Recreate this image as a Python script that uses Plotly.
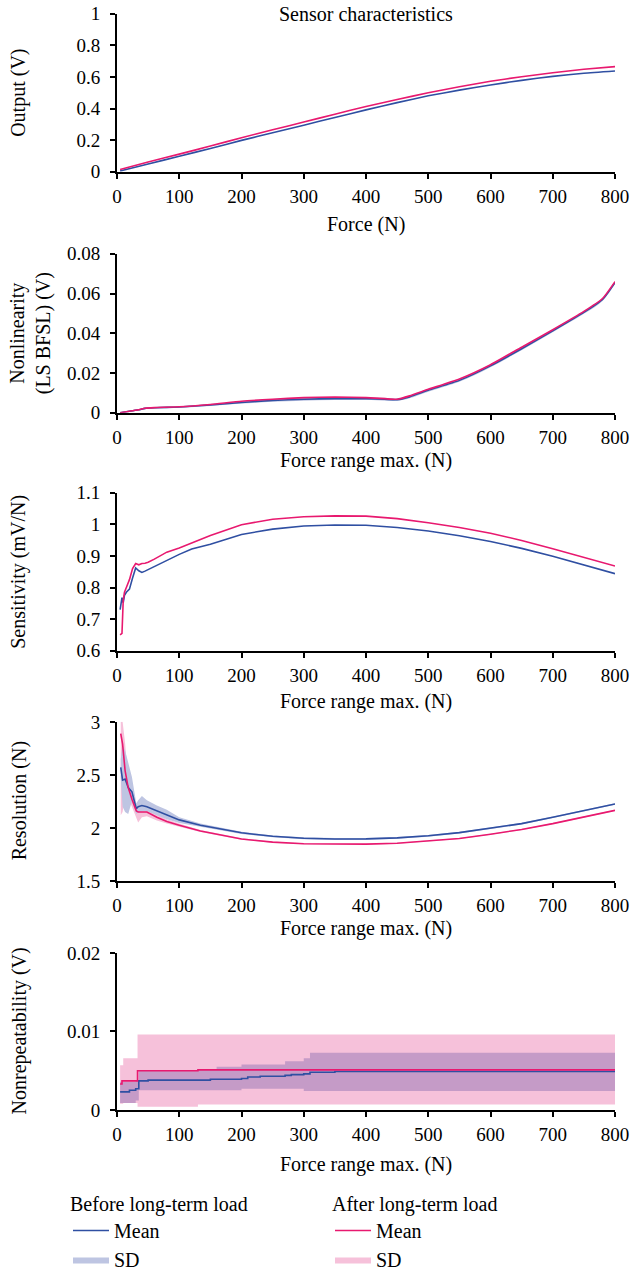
import plotly.graph_objects as go

# ---------------- data ----------------
# Panel 1: Output (V) vs Force (N)
out_x = [5, 50, 100, 150, 200, 250, 300, 350, 400, 450, 500, 550, 600, 650, 700, 750, 800]
out_before = [0.005, 0.050, 0.098, 0.148, 0.199, 0.247, 0.295, 0.344, 0.392, 0.438, 0.481, 0.517, 0.550, 0.579, 0.604, 0.624, 0.638]
out_after = [0.015, 0.062, 0.112, 0.163, 0.216, 0.266, 0.315, 0.365, 0.413, 0.458, 0.500, 0.538, 0.573, 0.602, 0.627, 0.649, 0.666]

# Panel 2: Nonlinearity
nl_x = [5, 20, 35, 45, 60, 100, 150, 200, 250, 300, 350, 400, 430, 450, 470, 500, 550, 600, 650, 700, 750, 780, 800]
nl_after = [0.0, 0.0008, 0.0015, 0.0023, 0.0026, 0.0030, 0.0042, 0.0058, 0.0068, 0.0076, 0.0079, 0.0076, 0.0071, 0.0068, 0.0085, 0.0118, 0.0170, 0.0242, 0.0330, 0.0418, 0.0510, 0.0575, 0.0660]
nl_before = [0.0, 0.0008, 0.0015, 0.0022, 0.0025, 0.0029, 0.0039, 0.0052, 0.0062, 0.0068, 0.0071, 0.0071, 0.0068, 0.0066, 0.0080, 0.0113, 0.0163, 0.0236, 0.0322, 0.0412, 0.0505, 0.0570, 0.0655]
nl_before_hi = [0.0003, 0.0011, 0.0019, 0.0026, 0.0029, 0.0033, 0.0044, 0.0058, 0.0069, 0.0075, 0.0078, 0.0078, 0.0075, 0.0072, 0.0087, 0.0120, 0.0170, 0.0243, 0.0329, 0.0419, 0.0512, 0.0577, 0.0662]
nl_before_lo = [0.0, 0.0005, 0.0011, 0.0018, 0.0021, 0.0025, 0.0034, 0.0046, 0.0055, 0.0061, 0.0064, 0.0064, 0.0061, 0.0060, 0.0073, 0.0106, 0.0156, 0.0229, 0.0315, 0.0405, 0.0498, 0.0563, 0.0648]

# Panel 3: Sensitivity (mV/N)
se_x = [5, 8, 10, 12, 15, 20, 25, 30, 35, 40, 45, 50, 60, 80, 100, 120, 150, 200, 250, 300, 350, 400, 450, 500, 550, 600, 650, 700, 750, 800]
se_after = [0.650, 0.655, 0.760, 0.785, 0.800, 0.825, 0.860, 0.876, 0.872, 0.876, 0.877, 0.880, 0.890, 0.912, 0.925, 0.940, 0.965, 0.999, 1.016, 1.024, 1.027, 1.026, 1.018, 1.005, 0.990, 0.972, 0.949, 0.923, 0.896, 0.868]
se_before = [0.730, 0.768, 0.752, 0.775, 0.785, 0.795, 0.830, 0.862, 0.853, 0.848, 0.852, 0.857, 0.865, 0.885, 0.905, 0.922, 0.937, 0.968, 0.985, 0.995, 0.998, 0.997, 0.990, 0.979, 0.964, 0.946, 0.924, 0.899, 0.872, 0.844]

# Panel 4: Resolution (N)
re_x = [6, 9, 13, 18, 24, 31, 34, 40, 48, 64, 80, 100, 134, 200, 250, 300, 350, 400, 450, 500, 550, 600, 650, 700, 750, 800]
re_before = [2.57, 2.45, 2.46, 2.38, 2.34, 2.18, 2.20, 2.21, 2.20, 2.16, 2.12, 2.075, 2.025, 1.953, 1.920, 1.902, 1.895, 1.896, 1.905, 1.925, 1.955, 1.995, 2.040, 2.100, 2.160, 2.225]
re_before_hi = [2.65, 2.78, 2.73, 2.62, 2.48, 2.23, 2.26, 2.30, 2.26, 2.21, 2.17, 2.10, 2.04, 1.963, 1.929, 1.911, 1.904, 1.905, 1.914, 1.933, 1.963, 2.003, 2.048, 2.108, 2.168, 2.233]
re_before_lo = [2.48, 2.20, 2.15, 2.13, 2.25, 2.13, 2.15, 2.16, 2.16, 2.12, 2.08, 2.045, 2.010, 1.943, 1.911, 1.893, 1.886, 1.887, 1.896, 1.917, 1.947, 1.987, 2.032, 2.092, 2.152, 2.217]
re_after = [2.89, 2.79, 2.54, 2.38, 2.27, 2.16, 2.15, 2.15, 2.15, 2.10, 2.06, 2.025, 1.970, 1.895, 1.865, 1.850, 1.845, 1.846, 1.855, 1.875, 1.900, 1.940, 1.985, 2.040, 2.100, 2.165]
re_after_hi = [3.00, 3.00, 2.80, 2.45, 2.33, 2.21, 2.22, 2.22, 2.18, 2.13, 2.08, 2.040, 1.980, 1.902, 1.870, 1.855, 1.850, 1.851, 1.860, 1.880, 1.905, 1.945, 1.990, 2.045, 2.105, 2.170]
re_after_lo = [2.12, 2.15, 2.30, 2.28, 2.20, 2.08, 2.05, 2.10, 2.11, 2.07, 2.04, 2.010, 1.960, 1.888, 1.860, 1.845, 1.840, 1.841, 1.850, 1.870, 1.895, 1.935, 1.980, 2.035, 2.095, 2.160]

# Panel 5: Nonrepeatability (V) - step data
nr_after_x = [5, 8, 33, 130, 800]
nr_after = [0.0033, 0.0037, 0.0050, 0.0051, 0.0051]
nr_after_sd_x = [5, 10, 33, 130, 800]
nr_after_hi = [0.0057, 0.0066, 0.0096, 0.0096, 0.0096]
nr_after_lo = [0.0008, 0.0009, 0.0004, 0.0007, 0.0007]
nr_before_x = [5, 20, 30, 35, 50, 150, 200, 210, 230, 270, 280, 300, 310, 350, 800]
nr_before = [0.0023, 0.0025, 0.0027, 0.0037, 0.0038, 0.0039, 0.0040, 0.0042, 0.0043, 0.0044, 0.0045, 0.0046, 0.0048, 0.0049, 0.0049]
nr_before_sd_x = [5, 30, 35, 160, 200, 270, 300, 310, 800]
nr_before_hi = [0.0036, 0.0038, 0.0051, 0.0055, 0.0058, 0.0062, 0.0066, 0.0073, 0.0073]
nr_before_lo = [0.0009, 0.0012, 0.0025, 0.0025, 0.0027, 0.0027, 0.0024, 0.0024, 0.0024]

x_ticks = [0, 100, 200, 300, 400, 500, 600, 700, 800]

# ---------------- styles ----------------
BLUE = "#2F4FA2"
PINK = "#E8196F"
BLUE_SD = "#BEC5E2"
PINK_SD = "#F6C1DA"
PURPLE_SD = "#C59BC7"
FONT = "Liberation Serif"
TXT = 20
TICK = 19
H = 1279
W = 631
L, R = 117, 16

# panel pixel extents (top, bottom)
panels = [(14, 174), (257, 418), (499, 659), (731, 892), (965, 1124)]

fig = go.Figure()


def band(x, lo, hi, color, ax, shape="spline", name=None, legend=None, show=False, rank=2):
    fig.add_trace(go.Scatter(x=x, y=lo, mode="lines", line=dict(width=0, shape=shape),
                             xaxis="x" + ax, yaxis="y" + ax, showlegend=False, hoverinfo="skip"))
    fig.add_trace(go.Scatter(x=x, y=hi, mode="lines", line=dict(width=0, shape=shape),
                             fill="tonexty", fillcolor=color, xaxis="x" + ax, yaxis="y" + ax,
                             name=name, showlegend=show, legend=legend, legendrank=rank,
                             hoverinfo="skip"))


def line(x, y, color, ax, shape="spline", name=None, legend=None, show=False):
    fig.add_trace(go.Scatter(x=x, y=y, mode="lines",
                             line=dict(color=color, width=1.6, shape=shape, smoothing=0.5),
                             xaxis="x" + ax, yaxis="y" + ax, name=name,
                             showlegend=show, legend=legend, legendrank=1))


# Panel 1
line(out_x, out_before, BLUE, "")
line(out_x, out_after, PINK, "")
# Panel 2
band(nl_x, nl_before_lo, nl_before_hi, BLUE_SD, "2")
line(nl_x, nl_before, BLUE, "2")
line(nl_x, nl_after, PINK, "2")
# Panel 3
line(se_x, se_before, BLUE, "3", shape="linear")
line(se_x, se_after, PINK, "3", shape="linear")
# Panel 4 (provides legend entries)
band(re_x, re_after_lo, re_after_hi, PINK_SD, "4", shape="linear", name="SD", legend="legend2", show=True)
band(re_x, re_before_lo, re_before_hi, "rgba(170,180,220,0.75)", "4", shape="linear", name="SD", legend="legend", show=True)
line(re_x, re_before, BLUE, "4", shape="linear", name="Mean", legend="legend", show=True)
line(re_x, re_after, PINK, "4", shape="linear", name="Mean", legend="legend2", show=True)
# Panel 5
band(nr_after_sd_x, nr_after_lo, nr_after_hi, PINK_SD, "5", shape="hv")
band(nr_before_sd_x, nr_before_lo, nr_before_hi, PURPLE_SD, "5", shape="hv")
line(nr_before_x, nr_before, BLUE, "5", shape="hv")
line(nr_after_x, nr_after, PINK, "5", shape="hv")

# legend swatch colour for "before" SD should be lavender
for tr in fig.data:
    if tr.name == "SD" and tr.legend == "legend":
        tr.fillcolor = BLUE_SD

yranges = [[0, 1], [0, 0.08], [0.6, 1.1], [1.5, 3], [0, 0.02]]
ydticks = [0.2, 0.02, 0.1, 0.5, 0.01]
ytitles = ["Output (V)", "Nonlinearity<br>(LS BFSL) (V)", "Sensitivity (mV/N)", "Resolution (N)", "Nonrepeatability (V)"]
xtitles = ["Force (N)", "Force range max. (N)", "Force range max. (N)", "Force range max. (N)", "Force range max. (N)"]
xtitle_px = [227, 466, 710, 940, 1179]

axis_common = dict(showline=True, linecolor="black", linewidth=2, ticks="outside", ticklen=5,
                   tickwidth=2, tickcolor="black", showgrid=False, zeroline=False,
                   tickfont=dict(family=FONT, size=TICK, color="black"), automargin=False)

layout = {}
annotations = []
for i, (top, bot) in enumerate(panels):
    suffix = "" if i == 0 else str(i + 1)
    dom = [1 - bot / H, 1 - top / H]
    layout["xaxis" + suffix] = dict(axis_common, range=[0, 800], tickvals=x_ticks,
                                    anchor="y" + suffix, domain=[0, 1], ticklabelstandoff=1)
    layout["yaxis" + suffix] = dict(axis_common, range=yranges[i], dtick=ydticks[i], tick0=0 if i != 3 else 1.5,
                                    anchor="x" + suffix, domain=dom, ticklabelstandoff=6)
    annotations.append(dict(text=xtitles[i], xref="paper", yref="paper", x=0.5, y=1 - xtitle_px[i] / H,
                            xanchor="center", yanchor="middle", showarrow=False,
                            font=dict(family=FONT, size=TXT, color="black")))
    xpx = 30 if i == 1 else 19
    annotations.append(dict(text=ytitles[i], xref="paper", yref="paper", x=(xpx - L) / (W - L - R),
                            y=1 - (top + bot) / 2 / H, xanchor="center", yanchor="middle",
                            textangle=-90, showarrow=False,
                            font=dict(family=FONT, size=TXT, color="black")))

annotations.append(dict(text="Sensor characteristics", xref="paper", yref="paper", x=0.5, y=1 - 14 / H,
                        xanchor="center", yanchor="middle", showarrow=False,
                        font=dict(family=FONT, size=TXT, color="black")))

legend_common = dict(orientation="v", yanchor="top", xanchor="left", traceorder="normal",
                     font=dict(family=FONT, size=TXT, color="black"), bgcolor="rgba(0,0,0,0)",
                     tracegroupgap=0, itemwidth=36)

fig.update_layout(
    width=W, height=H,
    margin=dict(l=L, r=R, t=0, b=0),
    plot_bgcolor="white", paper_bgcolor="white",
    font=dict(family=FONT, size=TXT, color="black"),
    annotations=annotations,
    legend=dict(legend_common, x=(68 - L) / (W - L - R), y=1 - 1200 / H,
                title=dict(text="Before long-term load", font=dict(family=FONT, size=TXT))),
    legend2=dict(legend_common, x=(330 - L) / (W - L - R), y=1 - 1200 / H,
                 title=dict(text="After long-term load", font=dict(family=FONT, size=TXT))),
    hovermode=False,
    **layout,
)

post = (
    "var h=document.documentElement, b=document.body;"
    "h.style.margin='0';h.style.padding='0';h.style.overflow='hidden';h.style.height='1279px';"
    "b.style.margin='0';b.style.padding='0';b.style.overflow='hidden';b.style.height='1279px';b.style.width='631px';"
    "var g=document.getElementById('{plot_id}');"
    "g.style.position='absolute';g.style.top='0px';g.style.left='0px';"
)

fig.write_html("out.html", config={"displayModeBar": False}, post_script=post)
